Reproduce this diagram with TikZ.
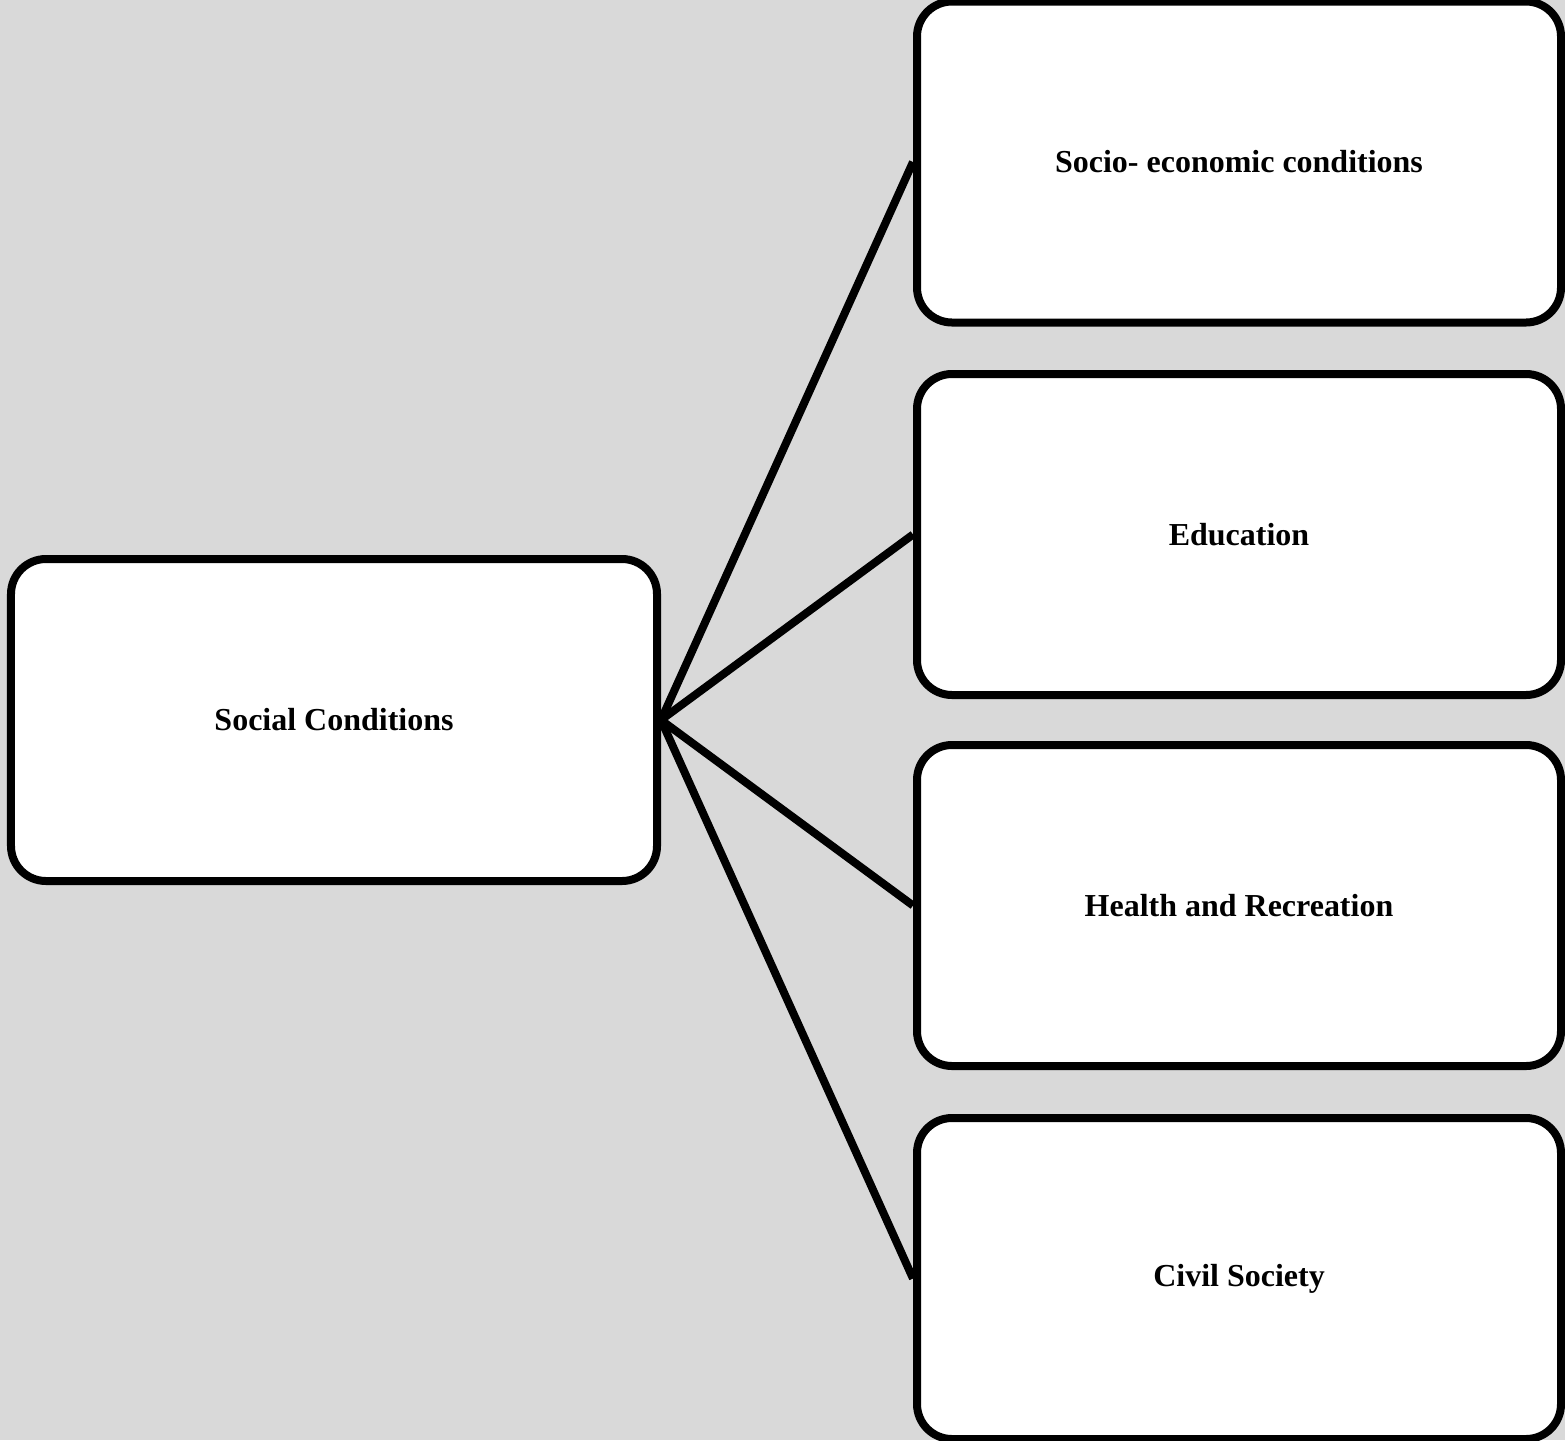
\documentclass[tikz,border=0pt]{standalone}
\usepackage{fontspec}
\setmainfont{Liberation Serif}
\usetikzlibrary{positioning}
\definecolor{bggray}{HTML}{D9D9D9}

\tikzset{
  box/.style={draw, line width=0.08cm, rounded corners=0.35cm, fill=white,
    minimum width=6.44cm, minimum height=3.21cm, align=center,
    font=\fontsize{9.1}{11}\selectfont\bfseries},
  link/.style={line width=0.08cm}
}

\begin{document}
\begin{tikzpicture}
  \fill[bggray] (0,0) rectangle (15.65,-14.40);
  \useasboundingbox (0,0) rectangle (15.65,-14.40);

  \node[box, minimum width=6.46cm, minimum height=3.22cm] (soc) at (3.34,-7.20) {Social Conditions};
  \node[box] (eco) at (12.39,-1.62) {Socio- economic conditions};
  \node[box] (edu) at (12.39,-5.345) {Education};
  \node[box] (hea) at (12.39,-9.055) {Health and Recreation};
  \node[box] (civ) at (12.39,-12.785) {Civil Society};

  \path[link]
  (soc.east) edge (eco.west)
             edge (edu.west)
             edge (hea.west)
             edge (civ.west)
  ;
\end{tikzpicture}
\end{document}
